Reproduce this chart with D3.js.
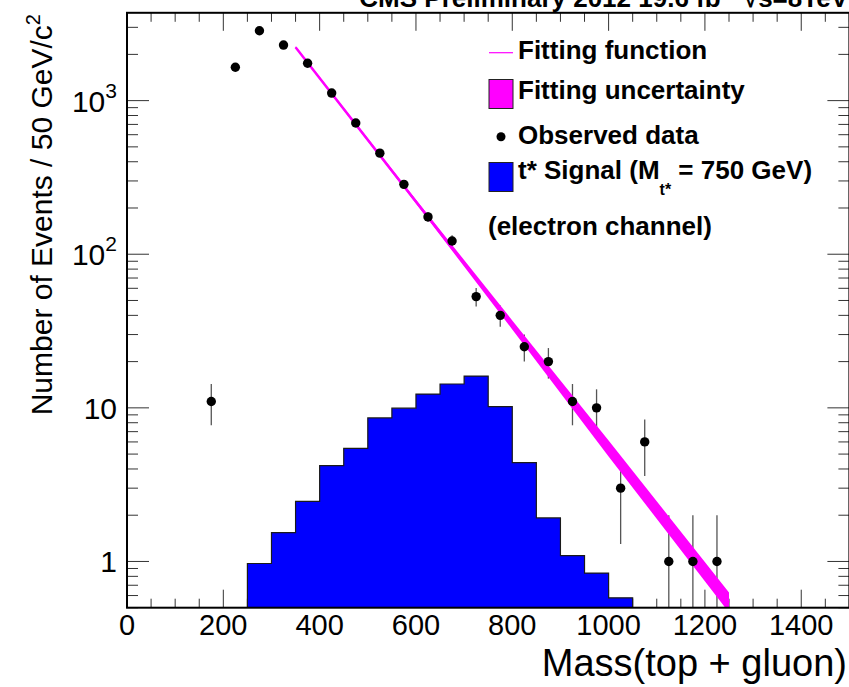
<!DOCTYPE html>
<html>
<head>
<meta charset="utf-8">
<script src="https://cdn.jsdelivr.net/npm/d3@7"></script>
<style>
  html, body { margin: 0; padding: 0; background: #fff; }
  svg { display: block; font-family: "Liberation Sans", Arial, Helvetica, sans-serif; }
</style>
</head>
<body>
<div id="chart"></div>
<script>
// Observed data (bin centres, 50 GeV bins)
const dataMass = [175, 225, 275, 325, 375, 425, 475, 525, 575, 625, 675,
                  725, 775, 825, 875, 925, 975, 1025, 1075, 1125, 1175, 1225];
const dataCounts = [11, 1650, 2850, 2300, 1750, 1120, 715, 455, 285, 175, 122,
                    53, 40, 25, 20, 11, 10, 3, 6, 1, 1, 1];
const dataErrors = [3.3, 41, 53, 48, 42, 33, 27, 21, 17, 13, 11,
                    7.3, 6.3, 5, 4.5, 3.3, 3.2, 1.7, 2.4, 1, 1, 1];

// t* signal histogram (lower bin edges, 50 GeV wide)
const signalLow = [250, 300, 350, 400, 450, 500, 550, 600, 650, 700,
                   750, 800, 850, 900, 950, 1000];
const signalValues = [0.97, 1.54, 2.46, 4.2, 5.44, 8.6, 9.95, 12.3, 14.3, 16.1,
                      10.2, 4.4, 1.92, 1.09, 0.84, 0.58];
const binWidth = 50;

// Fitting function and its uncertainty band
const fitMass = [350, 600, 800, 1000, 1250];
const fitValues = [2225, 220, 34.7, 5.45, 0.54];
const fitLow = [2192, 213.6, 32.4, 4.83, 0.465];
const fitHigh = [2258, 226.6, 37.1, 6.14, 0.627];

// Axis ticks
const xTickValues = [0, 200, 400, 600, 800, 1000, 1200, 1400];
const yTickValues = [1, 10, 100, 1000];
const yTickLabels = [['1', ''], ['10', ''], ['10', '2'], ['10', '3']];

const width = 849;
const height = 687;
const plot = { left: 127, right: 849.4, top: 12.8, bottom: 607.7 };

const svg = d3.select('#chart')
    .append('svg')
    .attr('width', width)
    .attr('height', height);

const x = d3.scaleLinear().domain([0, 1500]).range([plot.left, plot.right]);
const y = d3.scaleLog().domain([0.5, 3730]).range([plot.bottom, plot.top]);

svg.append('defs').append('clipPath')
    .attr('id', 'plot-clip')
    .append('rect')
    .attr('x', plot.left)
    .attr('y', plot.top)
    .attr('width', plot.right - plot.left)
    .attr('height', plot.bottom - plot.top);

// Ticks on all four sides, pointing inwards
const ticks = svg.append('g').attr('stroke', '#333').attr('stroke-width', 1);

const xMinor = d3.range(0, 1501, 50);
xMinor.forEach(v => {
    const len = (v % 200 === 0) ? 18 : 9;
    ticks.append('line')
        .attr('x1', x(v)).attr('x2', x(v))
        .attr('y1', plot.bottom).attr('y2', plot.bottom - len);
    ticks.append('line')
        .attr('x1', x(v)).attr('x2', x(v))
        .attr('y1', plot.top).attr('y2', plot.top + len);
});

const yMinor = [];
[0.1, 1, 10, 100, 1000].forEach(dec => {
    for (let k = 1; k <= 9; k++) {
        const v = dec * k;
        if (v >= 0.5 && v <= 3730) yMinor.push(v);
    }
});
yMinor.forEach(v => {
    const major = yTickValues.includes(v);
    const len = major ? 22 : 11;
    ticks.append('line')
        .attr('x1', plot.left).attr('x2', plot.left + len)
        .attr('y1', y(v)).attr('y2', y(v));
    ticks.append('line')
        .attr('x1', plot.right).attr('x2', plot.right - len)
        .attr('y1', y(v)).attr('y2', y(v));
});

const inner = svg.append('g').attr('clip-path', 'url(#plot-clip)');

// Signal histogram
const histPoints = signalLow.map((lo, i) => [lo, signalValues[i]]);
histPoints.push([signalLow[signalLow.length - 1] + binWidth, signalValues[signalValues.length - 1]]);

const histArea = d3.area()
    .curve(d3.curveStepAfter)
    .x(d => x(d[0]))
    .y0(y(0.5))
    .y1(d => y(d[1]));

inner.append('path')
    .datum(histPoints)
    .attr('d', histArea)
    .attr('fill', '#0000ff')
    .attr('stroke', '#1a1a1a')
    .attr('stroke-width', 1.2);

// Error bars
inner.selectAll('.err')
    .data(dataMass)
    .enter()
    .append('line')
    .attr('class', 'err')
    .attr('x1', d => x(d))
    .attr('x2', d => x(d))
    .attr('y1', (d, i) => y(Math.max(dataCounts[i] - dataErrors[i], 0.5)))
    .attr('y2', (d, i) => y(dataCounts[i] + dataErrors[i]))
    .attr('stroke', '#555')
    .attr('stroke-width', 1.3);

// Fit uncertainty band
const band = d3.area()
    .x((d, i) => x(fitMass[i]))
    .y0((d, i) => y(fitLow[i]))
    .y1((d, i) => y(fitHigh[i]));

inner.append('path')
    .datum(fitMass)
    .attr('d', band)
    .attr('fill', '#ff00ff');

// Fit line
const fitLine = d3.line()
    .x((d, i) => x(fitMass[i]))
    .y((d, i) => y(fitValues[i]));

inner.append('path')
    .datum(fitMass)
    .attr('d', fitLine)
    .attr('fill', 'none')
    .attr('stroke', '#ff00ff')
    .attr('stroke-width', 2.5);

// Data points
inner.selectAll('.dot')
    .data(dataMass)
    .enter()
    .append('circle')
    .attr('class', 'dot')
    .attr('cx', d => x(d))
    .attr('cy', (d, i) => y(dataCounts[i]))
    .attr('r', 4.7)
    .attr('fill', '#000');

// Frame
svg.append('rect')
    .attr('x', plot.left)
    .attr('y', plot.top)
    .attr('width', plot.right - plot.left)
    .attr('height', plot.bottom - plot.top)
    .attr('fill', 'none')
    .attr('stroke', '#000')
    .attr('stroke-width', 2);

// X tick labels
svg.selectAll('.xlabel')
    .data(xTickValues)
    .enter()
    .append('text')
    .attr('class', 'xlabel')
    .attr('x', d => x(d))
    .attr('y', 635)
    .attr('text-anchor', 'middle')
    .style('font-size', '29px')
    .text(d => d);

// Y tick labels
yTickValues.forEach((v, i) => {
    const t = svg.append('text')
        .attr('x', 117)
        .attr('y', y(v) + 11)
        .attr('text-anchor', 'end')
        .style('font-size', '30px');
    t.append('tspan').text(yTickLabels[i][0]);
    if (yTickLabels[i][1]) {
        t.append('tspan')
            .attr('dy', -14)
            .style('font-size', '21px')
            .text(yTickLabels[i][1]);
    }
});

// Axis titles
svg.append('text')
    .attr('x', 847)
    .attr('y', 676)
    .attr('text-anchor', 'end')
    .style('font-size', '38px')
    .text('Mass(top + gluon)');

const yTitle = svg.append('text')
    .attr('transform', 'translate(52, 14) rotate(-90)')
    .attr('text-anchor', 'end')
    .style('font-size', '30px');
yTitle.append('tspan').text('Number of Events / 50 GeV/c');
yTitle.append('tspan').attr('dy', -12).style('font-size', '20px').text('2');

// Header (cut off at the top of the picture)
const header = svg.append('text')
    .attr('x', 848)
    .attr('y', 7)
    .attr('text-anchor', 'end')
    .style('font-size', '26px')
    .style('font-weight', 'bold');
header.append('tspan').text('CMS Preliminary 2012 19.6 fb');
header.append('tspan').attr('dy', -10).style('font-size', '18px').text('-1');
header.append('tspan').attr('dy', 10).text(' \u221As=8TeV');

// Legend
const legend = svg.append('g').style('font-size', '26px').style('font-weight', 'bold');

legend.append('line')
    .attr('x1', 489).attr('x2', 513)
    .attr('y1', 52.7).attr('y2', 52.7)
    .attr('stroke', '#ff00ff')
    .attr('stroke-width', 1.2);
legend.append('text').attr('x', 518).attr('y', 58.5).text('Fitting function');

legend.append('rect')
    .attr('x', 489).attr('y', 79.5)
    .attr('width', 24).attr('height', 29)
    .attr('fill', '#ff00ff')
    .attr('stroke', '#222')
    .attr('stroke-width', 1);
legend.append('text').attr('x', 518).attr('y', 98.5).text('Fitting uncertainty');

legend.append('circle')
    .attr('cx', 501).attr('cy', 136.7)
    .attr('r', 4.5)
    .attr('fill', '#000');
legend.append('text').attr('x', 518).attr('y', 144).text('Observed data');

legend.append('rect')
    .attr('x', 489).attr('y', 162.5)
    .attr('width', 24).attr('height', 29)
    .attr('fill', '#0000ff')
    .attr('stroke', '#222')
    .attr('stroke-width', 1);
const sigText = legend.append('text').attr('x', 518).attr('y', 178.5);
sigText.append('tspan').text('t* Signal (M');
sigText.append('tspan').attr('dy', 16).style('font-size', '16px').text('t*');
sigText.append('tspan').attr('dy', -16).text(' = 750 GeV)');

legend.append('text').attr('x', 488).attr('y', 235).text('(electron channel)');
</script>
</body>
</html>
